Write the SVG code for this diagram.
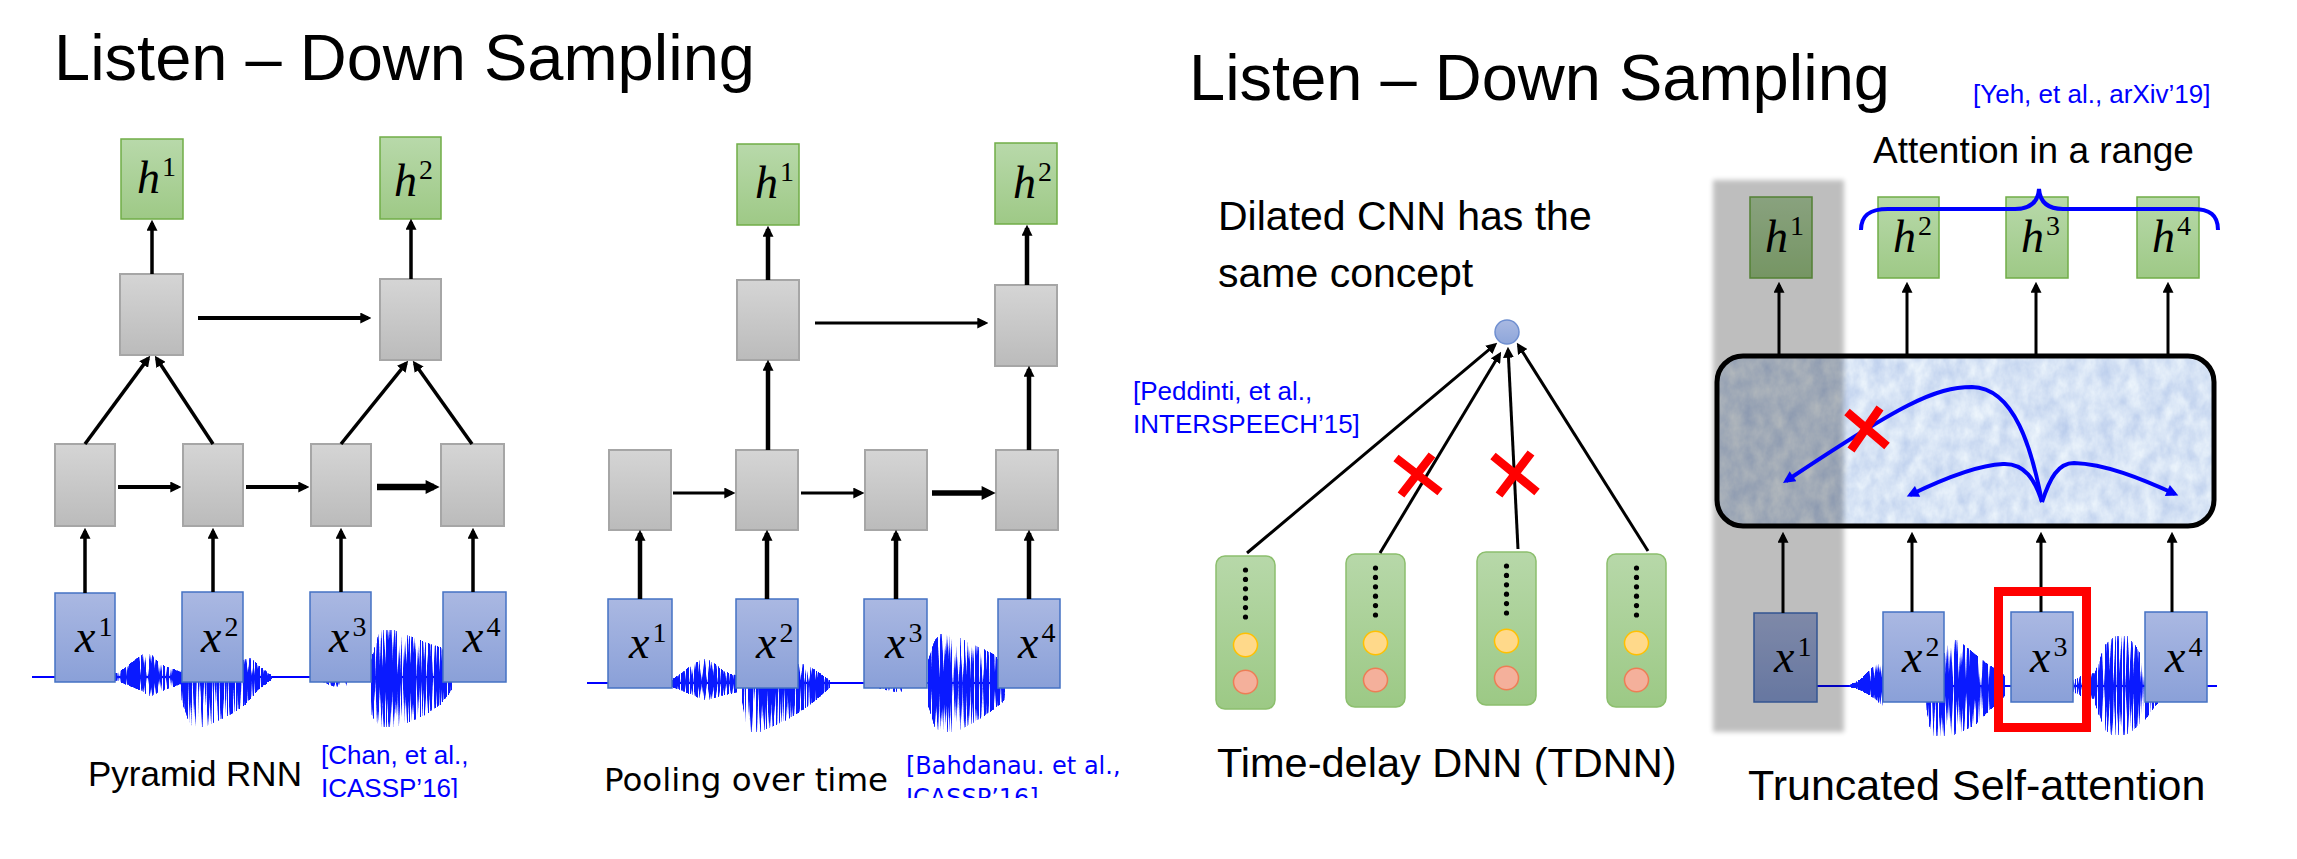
<svg xmlns="http://www.w3.org/2000/svg" width="2297" height="859" viewBox="0 0 2297 859">
  <defs>
    <style>
      text { font-family: "Liberation Sans", Arial, sans-serif; fill: #000; }
      .title { font-size: 65px; }
      .cap { font-size: 35px; }
      .cap41 { font-size: 41px; }
      .cite { font-size: 26px; fill: #0000ff; }
      .dv { font-family: "DejaVu Sans", Verdana, sans-serif; }
      .m { font-family: "Liberation Serif", "Times New Roman", serif; font-size: 46px; }
      .it { font-style: italic; }
      .sup { font-size: 28px; font-style: normal; }
      .hb { fill: url(#gGreen); stroke: #70ad47; stroke-width: 1.5; }
      .gb { fill: url(#gGrey); stroke: #a6a6a6; stroke-width: 2; }
      .xb { fill: url(#gBlue); stroke: #4472c4; stroke-width: 1.5; }
      .ar { stroke: #000; fill: none; marker-end: url(#ah); }
      .arL { stroke: #000; fill: none; marker-end: url(#ahL); }
      .blue { stroke: #0000ff; stroke-width: 4; fill: none; }
      .blueA { stroke: #0000ff; stroke-width: 4; fill: none; marker-end: url(#ahB); }
      .cross { stroke: #ff0000; stroke-width: 8.5; }
      .wline { stroke: #0000ff; stroke-width: 1.8; fill: none; }
    </style>

    <linearGradient id="gGreen" x1="0" y1="0" x2="0" y2="1">
      <stop offset="0" stop-color="#b8d9aa"/>
      <stop offset="1" stop-color="#9ec986"/>
    </linearGradient>
    <linearGradient id="gGrey" x1="0" y1="0" x2="0" y2="1">
      <stop offset="0" stop-color="#d5d5d5"/>
      <stop offset="1" stop-color="#bbbbbb"/>
    </linearGradient>
    <linearGradient id="gBlue" x1="0" y1="0" x2="0" y2="1">
      <stop offset="0" stop-color="#aab8e2"/>
      <stop offset="1" stop-color="#8aa0d8"/>
    </linearGradient>
    <linearGradient id="gCol" x1="0" y1="0" x2="0" y2="1">
      <stop offset="0" stop-color="#b7d8a9"/>
      <stop offset="1" stop-color="#9cc985"/>
    </linearGradient>
    <linearGradient id="gDot" x1="0" y1="0" x2="0" y2="1">
      <stop offset="0" stop-color="#a9b9e2"/>
      <stop offset="1" stop-color="#8ea6da"/>
    </linearGradient>

    <!-- amplitude falloff of a burst: full at the zero line, fading to its peaks -->
    <linearGradient id="e27" x1="0" y1="0" x2="0" y2="1"><stop offset="0" stop-color="#00f" stop-opacity="0"/><stop offset="0.27" stop-color="#00f"/><stop offset="1" stop-color="#00f" stop-opacity="0"/></linearGradient>
    <linearGradient id="e50" x1="0" y1="0" x2="0" y2="1"><stop offset="0" stop-color="#00f" stop-opacity="0"/><stop offset="0.5" stop-color="#00f"/><stop offset="1" stop-color="#00f" stop-opacity="0"/></linearGradient>
    <linearGradient id="e56" x1="0" y1="0" x2="0" y2="1"><stop offset="0" stop-color="#00f" stop-opacity="0"/><stop offset="0.56" stop-color="#00f"/><stop offset="1" stop-color="#00f" stop-opacity="0"/></linearGradient>

    <marker id="ah" viewBox="0 0 10 10" refX="7" refY="5" markerWidth="11" markerHeight="11" markerUnits="userSpaceOnUse" orient="auto">
      <path d="M0,0 L10,5 L0,10 z" fill="#000"/>
    </marker>
    <marker id="ahL" viewBox="0 0 10 10" refX="6" refY="5" markerWidth="16" markerHeight="14" markerUnits="userSpaceOnUse" orient="auto">
      <path d="M0,0 L10,5 L0,10 z" fill="#000"/>
    </marker>
    <marker id="ahB" viewBox="0 0 10 10" refX="7" refY="5" markerWidth="14" markerHeight="12" markerUnits="userSpaceOnUse" orient="auto">
      <path d="M0,0 L10,5 L0,10 z" fill="#0000ff"/>
    </marker>

    <!-- turns a soft amplitude envelope into vertical sample spikes of varying length -->
    <filter id="spikes" filterUnits="userSpaceOnUse" x="0" y="600" width="2297" height="160" color-interpolation-filters="sRGB">
      <feTurbulence type="fractalNoise" baseFrequency="0.55 0.004" numOctaves="2" seed="5" result="n"/>
      <feColorMatrix in="n" type="matrix" values="0 0 0 0 0  0 0 0 0 0  0 0 0 0 0  3 0 0 0 -0.85" result="na"/>
      <feComposite in="SourceAlpha" in2="na" operator="arithmetic" k1="0" k2="1" k3="1" k4="-0.85" result="sum"/>
      <feComponentTransfer in="sum" result="th">
        <feFuncA type="linear" slope="3.2" intercept="0"/>
      </feComponentTransfer>
      <feComponentTransfer in="SourceAlpha" result="mask">
        <feFuncA type="discrete" tableValues="0 1 1 1 1 1 1 1 1 1 1 1 1 1 1 1 1 1 1 1"/>
      </feComponentTransfer>
      <feComposite in="th" in2="mask" operator="in" result="cut"/>
      <feFlood flood-color="#0a1aff"/>
      <feComposite in2="cut" operator="in"/>
    </filter>

    <!-- mottled paper fill of the self-attention block -->
    <filter id="paper" color-interpolation-filters="sRGB">
      <feTurbulence type="fractalNoise" baseFrequency="0.07 0.05" numOctaves="4" seed="9" result="n"/>
      <feColorMatrix in="n" type="matrix" values="0.25 0 0 0 0.715  0.2 0 0 0 0.79  0.08 0 0 0 0.92  0 0 0 0 1" result="c"/>
      <feComposite in="c" in2="SourceGraphic" operator="in"/>
    </filter>

    <filter id="soft" x="-0.1" y="-0.1" width="1.2" height="1.2">
      <feGaussianBlur stdDeviation="2.5"/>
    </filter>

    <clipPath id="citeClip">
      <rect x="0" y="700" width="1160" height="98"/>
    </clipPath>

    <!-- one TDNN frame: stacked units in a rounded column -->
    <g id="tcol">
      <rect x="0" y="0" width="59" height="153" rx="9" fill="url(#gCol)" stroke="#8cbf6d" stroke-width="1.5"/>
      <g fill="#000">
        <circle cx="29.5" cy="14" r="2.6"/>
        <circle cx="29.5" cy="23.4" r="2.6"/>
        <circle cx="29.5" cy="32.8" r="2.6"/>
        <circle cx="29.5" cy="42.2" r="2.6"/>
        <circle cx="29.5" cy="51.6" r="2.6"/>
        <circle cx="29.5" cy="61" r="2.6"/>
      </g>
      <ellipse cx="29.5" cy="89" rx="12" ry="11.7" fill="#ffd98a" stroke="#ffc000" stroke-width="1.5"/>
      <ellipse cx="29.5" cy="126" rx="12" ry="11.7" fill="#f4b09b" stroke="#ed7d55" stroke-width="1.5"/>
    </g>
  </defs>

  <rect x="0" y="0" width="2297" height="859" fill="#ffffff"/>

  <!-- ===================== Pyramid RNN ===================== -->
  <text class="title" x="54" y="80">Listen – Down Sampling</text>

  <g id="wave-pyramid">
    <line class="wline" x1="32" y1="677" x2="450" y2="677"/>
    <g filter="url(#spikes)">
      <path fill="url(#e56)" d="M115,674 L125,668 L135,660 L145,652 L152,655 L160,664 L170,668 L181,672 L181,684 L170,688 L160,692 L150,697 L140,690 L130,686 L115,680 Z"/>
      <path fill="url(#e27)" d="M181,670 L200,665 L220,664 L243,660 L250,657 L258,665 L268,673 L272,676 L272,679 L258,690 L245,705 L230,715 L215,722 L200,730 L190,725 L181,700 Z"/>
      <path fill="url(#e27)" d="M318,677 L330,674 L347,675 L347,688 L335,687 L318,680 Z"/>
      <path fill="url(#e50)" d="M371,660 L380,630 L388,627 L400,632 L415,638 L430,644 L442,648 L452,668 L452,690 L440,705 L425,715 L410,722 L395,727 L382,730 L371,715 Z"/>
    </g>
  </g>

  <g id="pyr-h1"><rect class="hb" x="121" y="139" width="62" height="80"/><text class="m" x="137" y="193"><tspan class="it">h</tspan><tspan class="sup" dx="2" dy="-17">1</tspan></text></g>
  <g id="pyr-h2"><rect class="hb" x="380" y="137" width="61" height="82"/><text class="m" x="394" y="196"><tspan class="it">h</tspan><tspan class="sup" dx="2" dy="-17">2</tspan></text></g>
  <g id="pyr-u1"><rect class="gb" x="120" y="274" width="63" height="81"/></g>
  <g id="pyr-u2"><rect class="gb" x="380" y="279" width="61" height="81"/></g>
  <g id="pyr-m1"><rect class="gb" x="55" y="444" width="60" height="82"/></g>
  <g id="pyr-m2"><rect class="gb" x="183" y="444" width="60" height="82"/></g>
  <g id="pyr-m3"><rect class="gb" x="311" y="444" width="60" height="82"/></g>
  <g id="pyr-m4"><rect class="gb" x="441" y="444" width="63" height="82"/></g>
  <g id="pyr-x1"><rect class="xb" x="55" y="593" width="60" height="89"/><text class="m" x="75" y="652"><tspan class="it">x</tspan><tspan class="sup" dx="3" dy="-16">1</tspan></text></g>
  <g id="pyr-x2"><rect class="xb" x="182" y="592" width="61" height="90"/><text class="m" x="201" y="652"><tspan class="it">x</tspan><tspan class="sup" dx="3" dy="-16">2</tspan></text></g>
  <g id="pyr-x3"><rect class="xb" x="310" y="592" width="61" height="90"/><text class="m" x="329" y="652"><tspan class="it">x</tspan><tspan class="sup" dx="3" dy="-16">3</tspan></text></g>
  <g id="pyr-x4"><rect class="xb" x="443" y="592" width="63" height="90"/><text class="m" x="463" y="652"><tspan class="it">x</tspan><tspan class="sup" dx="3" dy="-16">4</tspan></text></g>

  <text class="cap" x="88" y="786">Pyramid RNN</text>
  <g clip-path="url(#citeClip)">
    <text class="cite" x="321" y="764">[Chan, et al.,</text>
    <text class="cite" x="321" y="797">ICASSP’16]</text>
  </g>

  <!-- ===================== Pooling over time ===================== -->
  <g id="wave-pooling">
    <line class="wline" x1="587" y1="683" x2="1003" y2="683"/>
    <g filter="url(#spikes)">
      <path fill="url(#e56)" d="M672,680 L685,670 L700,660 L706,658 L715,664 L725,672 L738,676 L738,692 L720,696 L706,701 L690,694 L672,687 Z"/>
      <path fill="url(#e27)" d="M742,672 L770,668 L790,665 L806,663 L815,670 L830,680 L830,688 L810,705 L790,718 L770,728 L753,735 L745,725 L742,700 Z"/>
      <path fill="url(#e27)" d="M873,683 L890,680 L902,682 L902,693 L888,691 L873,686 Z"/>
      <path fill="url(#e50)" d="M928,660 L935,640 L942,631 L955,635 L975,645 L995,655 L1005,670 L1005,700 L990,712 L975,722 L960,730 L945,735 L935,728 L928,705 Z"/>
    </g>
  </g>

  <g id="pool-h1"><rect class="hb" x="737" y="144" width="62" height="81"/><text class="m" x="755" y="198"><tspan class="it">h</tspan><tspan class="sup" dx="2" dy="-17">1</tspan></text></g>
  <g id="pool-h2"><rect class="hb" x="995" y="143" width="62" height="81"/><text class="m" x="1013" y="198"><tspan class="it">h</tspan><tspan class="sup" dx="2" dy="-17">2</tspan></text></g>
  <g id="pool-u1"><rect class="gb" x="737" y="280" width="62" height="80"/></g>
  <g id="pool-u2"><rect class="gb" x="995" y="285" width="62" height="81"/></g>
  <g id="pool-m1"><rect class="gb" x="609" y="450" width="62" height="80"/></g>
  <g id="pool-m2"><rect class="gb" x="736" y="450" width="62" height="80"/></g>
  <g id="pool-m3"><rect class="gb" x="865" y="450" width="62" height="80"/></g>
  <g id="pool-m4"><rect class="gb" x="996" y="450" width="62" height="80"/></g>
  <g id="pool-x1"><rect class="xb" x="608" y="599" width="64" height="89"/><text class="m" x="629" y="658"><tspan class="it">x</tspan><tspan class="sup" dx="3" dy="-16">1</tspan></text></g>
  <g id="pool-x2"><rect class="xb" x="736" y="599" width="62" height="89"/><text class="m" x="756" y="658"><tspan class="it">x</tspan><tspan class="sup" dx="3" dy="-16">2</tspan></text></g>
  <g id="pool-x3"><rect class="xb" x="864" y="599" width="63" height="89"/><text class="m" x="885" y="658"><tspan class="it">x</tspan><tspan class="sup" dx="3" dy="-16">3</tspan></text></g>
  <g id="pool-x4"><rect class="xb" x="998" y="599" width="62" height="89"/><text class="m" x="1018" y="658"><tspan class="it">x</tspan><tspan class="sup" dx="3" dy="-16">4</tspan></text></g>

  <text class="cap dv" x="604" y="791" style="font-size:32.5px">Pooling over time</text>
  <g clip-path="url(#citeClip)">
    <text class="cite dv" x="906" y="774" style="font-size:24px">[Bahdanau. et al.,</text>
    <text class="cite dv" x="906" y="806" style="font-size:24px">ICASSP’16]</text>
  </g>

  <!-- ===================== Dilated CNN / TDNN ===================== -->
  <text class="title" x="1189" y="100">Listen – Down Sampling</text>
  <text class="cap41" x="1218" y="230">Dilated CNN has the</text>
  <text class="cap41" x="1218" y="287">same concept</text>
  <text class="cite" x="1133" y="400">[Peddinti, et al.,</text>
  <text class="cite" x="1133" y="433">INTERSPEECH’15]</text>

  <g id="tdnn-out"><circle cx="1507" cy="332" r="12" fill="url(#gDot)" stroke="#6f8fd0" stroke-width="1.5"/></g>
  <g id="tdnn-c1"><use href="#tcol" x="1216" y="556"/></g>
  <g id="tdnn-c2"><use href="#tcol" x="1346" y="554"/></g>
  <g id="tdnn-c3"><use href="#tcol" x="1477" y="552"/></g>
  <g id="tdnn-c4"><use href="#tcol" x="1607" y="554"/></g>

  <text class="cap41" x="1217" y="777" style="font-size:41.5px">Time-delay DNN (TDNN)</text>

  <!-- ===================== Truncated self-attention ===================== -->
  <text class="cite" x="1973" y="103">[Yeh, et al., arXiv’19]</text>
  <text x="1873" y="163" style="font-size:37px">Attention in a range</text>

  <g id="wave-attention">
    <line class="wline" x1="1817" y1="686" x2="2217" y2="686"/>
    <g filter="url(#spikes)">
      <path fill="url(#e50)" d="M1848,686 L1860,680 L1868,672 L1876,664 L1885,662 L1885,708 L1876,700 L1868,694 L1860,690 Z"/>
      <path fill="url(#e50)" d="M1925,680 L1944,655 L1950,637 L1958,640 L1970,650 L1985,662 L2005,676 L2005,696 L1990,710 L1975,725 L1960,733 L1945,738 L1932,738 L1925,705 Z"/>
      <path fill="url(#e50)" d="M2073,680 L2083,675 L2095,672 L2095,700 L2083,697 L2073,692 Z"/>
      <path fill="url(#e50)" d="M2095,672 L2105,645 L2115,635 L2125,633 L2135,645 L2145,660 L2160,675 L2160,700 L2145,720 L2130,733 L2115,738 L2105,730 L2095,705 Z"/>
    </g>
  </g>

  <g id="att-block">
    <rect x="1717" y="356" width="497" height="170" rx="26" fill="#dce8f3" filter="url(#paper)"/>
    <rect x="1717" y="356" width="497" height="170" rx="26" fill="none" stroke="#000" stroke-width="5"/>
  </g>
  <g id="att-h1"><rect class="hb" x="1750" y="197" width="62" height="81"/><text class="m" x="1765" y="252"><tspan class="it">h</tspan><tspan class="sup" dx="2" dy="-17">1</tspan></text></g>
  <g id="att-h2"><rect class="hb" x="1878" y="197" width="61" height="81"/><text class="m" x="1893" y="252"><tspan class="it">h</tspan><tspan class="sup" dx="2" dy="-17">2</tspan></text></g>
  <g id="att-h3"><rect class="hb" x="2006" y="197" width="62" height="81"/><text class="m" x="2021" y="252"><tspan class="it">h</tspan><tspan class="sup" dx="2" dy="-17">3</tspan></text></g>
  <g id="att-h4"><rect class="hb" x="2137" y="197" width="62" height="81"/><text class="m" x="2152" y="252"><tspan class="it">h</tspan><tspan class="sup" dx="2" dy="-17">4</tspan></text></g>
  <g id="att-x1"><rect class="xb" x="1754" y="613" width="63" height="89"/><text class="m" x="1774" y="672"><tspan class="it">x</tspan><tspan class="sup" dx="3" dy="-16">1</tspan></text></g>
  <g id="att-x2"><rect class="xb" x="1883" y="612" width="61" height="90"/><text class="m" x="1902" y="672"><tspan class="it">x</tspan><tspan class="sup" dx="3" dy="-16">2</tspan></text></g>
  <g id="att-x3"><rect class="xb" x="2011" y="612" width="62" height="90"/><text class="m" x="2030" y="672"><tspan class="it">x</tspan><tspan class="sup" dx="3" dy="-16">3</tspan></text></g>
  <g id="att-x4"><rect class="xb" x="2145" y="612" width="62" height="90"/><text class="m" x="2165" y="672"><tspan class="it">x</tspan><tspan class="sup" dx="3" dy="-16">4</tspan></text></g>

  <text class="cap41" x="1748" y="800" style="font-size:43px">Truncated Self-attention</text>

  <!-- ===================== connectors ===================== -->
  <g id="connectors">
    <!-- pyramid RNN -->
    <line class="ar" x1="152" y1="274" x2="152" y2="223" stroke-width="3.5"/>
    <line class="ar" x1="411" y1="279" x2="411" y2="222" stroke-width="3.5"/>
    <line class="ar" x1="198" y1="318" x2="368" y2="318" stroke-width="4"/>
    <line class="ar" x1="85" y1="444" x2="148.2" y2="358.4" stroke-width="3.5"/>
    <line class="ar" x1="213" y1="444" x2="156.7" y2="358.5" stroke-width="3.5"/>
    <line class="ar" x1="341" y1="444" x2="406.1" y2="363.3" stroke-width="3.5"/>
    <line class="ar" x1="472" y1="444" x2="414.7" y2="363.4" stroke-width="3.5"/>
    <line class="ar" x1="118" y1="487" x2="178" y2="487" stroke-width="4"/>
    <line class="ar" x1="246" y1="487" x2="306" y2="487" stroke-width="4"/>
    <line class="arL" x1="377" y1="487" x2="434" y2="487" stroke-width="6.5"/>
    <line class="ar" x1="85" y1="593" x2="85" y2="531" stroke-width="3.5"/>
    <line class="ar" x1="213" y1="592" x2="213" y2="531" stroke-width="3.5"/>
    <line class="ar" x1="341" y1="592" x2="341" y2="531" stroke-width="3.5"/>
    <line class="ar" x1="473" y1="592" x2="473" y2="531" stroke-width="3.5"/>

    <!-- pooling over time -->
    <line class="ar" x1="768" y1="280" x2="768" y2="229" stroke-width="4.5"/>
    <line class="ar" x1="1027" y1="285" x2="1027" y2="228" stroke-width="4.5"/>
    <line class="ar" x1="815" y1="323" x2="985" y2="323" stroke-width="3"/>
    <line class="ar" x1="768" y1="450" x2="768" y2="363" stroke-width="4.5"/>
    <line class="ar" x1="1029" y1="450" x2="1029" y2="369" stroke-width="4.5"/>
    <line class="ar" x1="673" y1="493" x2="732" y2="493" stroke-width="3"/>
    <line class="ar" x1="801" y1="493" x2="861" y2="493" stroke-width="3"/>
    <line class="arL" x1="932" y1="493" x2="990" y2="493" stroke-width="5.5"/>
    <line class="ar" x1="640" y1="599" x2="640" y2="533" stroke-width="4.5"/>
    <line class="ar" x1="767" y1="599" x2="767" y2="533" stroke-width="4.5"/>
    <line class="ar" x1="896" y1="599" x2="896" y2="533" stroke-width="4.5"/>
    <line class="ar" x1="1029" y1="599" x2="1029" y2="533" stroke-width="4.5"/>

    <!-- TDNN -->
    <line class="ar" x1="1247" y1="553" x2="1494.7" y2="344.9" stroke-width="3"/>
    <line class="ar" x1="1380" y1="553" x2="1499.4" y2="354.6" stroke-width="3"/>
    <line class="ar" x1="1518" y1="549" x2="1508.1" y2="350" stroke-width="3"/>
    <line class="ar" x1="1648" y1="551" x2="1518.6" y2="345.5" stroke-width="3"/>

    <!-- truncated self-attention -->
    <line class="ar" x1="1779" y1="354" x2="1779" y2="285" stroke-width="3"/>
    <line class="ar" x1="1907" y1="354" x2="1907" y2="285" stroke-width="3"/>
    <line class="ar" x1="2036" y1="354" x2="2036" y2="285" stroke-width="3"/>
    <line class="ar" x1="2168" y1="354" x2="2168" y2="285" stroke-width="3"/>
    <line class="ar" x1="1783" y1="613" x2="1783" y2="535" stroke-width="3"/>
    <line class="ar" x1="1912" y1="612" x2="1912" y2="535" stroke-width="3"/>
    <line class="ar" x1="2041" y1="612" x2="2041" y2="535" stroke-width="3"/>
    <line class="ar" x1="2172" y1="612" x2="2172" y2="535" stroke-width="3"/>
  </g>

  <!-- focus frame around the current query frame -->
  <rect id="att-focus" x="1998.5" y="591.5" width="88" height="136" fill="none" stroke="#ff0000" stroke-width="9"/>

  <!-- shaded out-of-range frame -->
  <rect id="att-shade" x="1713" y="180" width="131" height="552" fill="#000" opacity="0.25" filter="url(#soft)"/>

  <g id="attention-links">
    <path class="blueA" d="M2042,502 C2032,450 2015,388 1972,387 C1935,387 1900,405 1786,481"/>
    <path class="blueA" d="M2042,502 C2035,480 2025,463 2003,464 C1978,465 1945,478 1910,495"/>
    <path class="blueA" d="M2042,502 C2050,478 2058,463 2074,463 C2105,464 2140,478 2175,494"/>
    <path class="blue" d="M1861,230 C1861,215 1870,209 1888,209 L2015,209 C2030,209 2038,202 2039,189 C2040,202 2048,209 2063,209 L2192,209 C2210,209 2218,215 2218,230"/>
  </g>

  <g id="cut-marks">
    <path class="cross" d="M1396,458 L1440,492 M1432,455 L1401,495"/>
    <path class="cross" d="M1493,456 L1537,492 M1531,453 L1499,495"/>
    <path class="cross" d="M1847,412 L1887,446 M1880,408 L1851,450"/>
  </g>
</svg>
